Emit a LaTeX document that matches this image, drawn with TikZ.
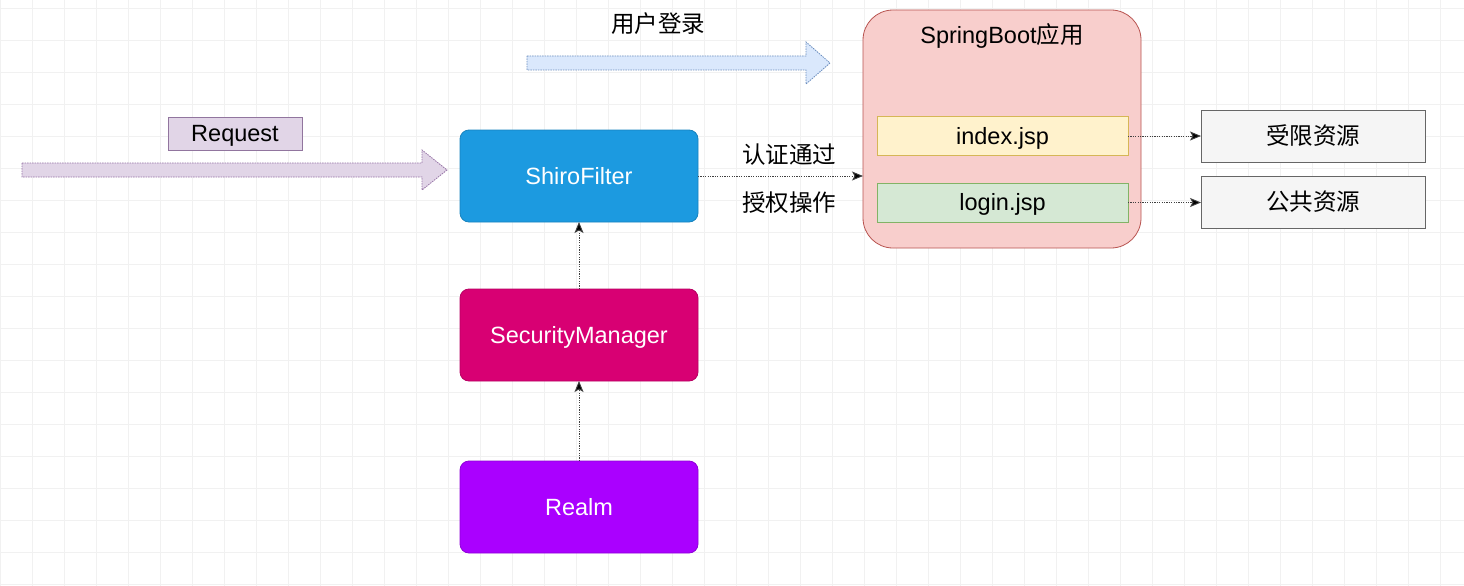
\documentclass[tikz,border=0pt]{standalone}
\usepackage{fontspec}
\setmainfont{Liberation Sans}
\newfontfamily\cjk{Noto Sans CJK SC}
\usetikzlibrary{arrows.meta}
\definecolor{reqfill}{HTML}{E1D5E7}
\definecolor{reqdraw}{HTML}{9673A6}
\definecolor{bluefill}{HTML}{DAE8FC}
\definecolor{bluedraw}{HTML}{6C8EBF}
\definecolor{shiro}{HTML}{1C9AE0}
\definecolor{smcol}{HTML}{D80073}
\definecolor{realmcol}{HTML}{AA00FF}
\definecolor{sbfill}{HTML}{F8CECC}
\definecolor{sbdraw}{HTML}{B85450}
\definecolor{idxfill}{HTML}{FFF2CC}
\definecolor{idxdraw}{HTML}{D6B656}
\definecolor{logfill}{HTML}{D5E8D4}
\definecolor{logdraw}{HTML}{82B366}
\definecolor{resfill}{HTML}{F5F5F5}
\definecolor{resdraw}{HTML}{666666}
\definecolor{gridcol}{HTML}{F1F1F1}
\begin{document}
\begin{tikzpicture}[x=1pt,y=-1pt,
  base/.style={inner sep=0pt,outer sep=0pt,font=\fontsize{23.5}{28}\selectfont,text height=16.8pt,text depth=0pt},
  corebox/.style={base,rounded corners=9pt,minimum width=238pt,minimum height=92pt,text=white,draw=#1!85!black,fill=#1,line width=0.8pt},
  jspbox/.style={base,minimum width=251pt,minimum height=39pt,line width=0.8pt},
  resbox/.style={base,minimum width=224pt,minimum height=52pt,fill=resfill,draw=resdraw,line width=0.8pt},
  conn/.style={draw=black!75,line width=0.9pt,dash pattern=on 1.2pt off 1.2pt,-{Stealth[length=11pt,width=9pt,inset=2.5pt,fill=black]}},
  blockarrow/.style={line width=0.8pt,dash pattern=on 1.5pt off 1pt}
]
\useasboundingbox (0,0) rectangle (1464,586);
\fill[white] (0,0) rectangle (1464,586);
% grid
\foreach \gx in {0,32,...,1464} \draw[gridcol,line width=0.7pt] (\gx,0) -- (\gx,586);
\foreach \gy in {8,40,...,586} \draw[gridcol,line width=0.7pt] (0,\gy) -- (1464,\gy);

% block arrows
\filldraw[blockarrow,fill=reqfill,draw=reqdraw] (22,163) -- (422,163) -- (422,150) -- (447,170) -- (422,190) -- (422,177) -- (22,177) -- cycle;
\filldraw[blockarrow,fill=bluefill,draw=bluedraw] (527,56) -- (806,56) -- (806,42) -- (830,63) -- (806,84) -- (806,70) -- (527,70) -- cycle;

\node[base,fill=reqfill,draw=reqdraw!80!gray,line width=0.8pt,minimum width=134pt,minimum height=33pt] (req) at (235,133.5) {Request};
\node[base] (login) at (658,24) {\cjk 用户登录};

\node[corebox=shiro] (sf) at (579,176) {ShiroFilter};
\node[corebox=smcol] (sm) at (579,335) {SecurityManager};
\node[corebox=realmcol] (realm) at (579,507) {Realm};

\node[base,rounded corners=30pt,fill=sbfill,draw=sbdraw,line width=0.8pt,minimum width=278pt,minimum height=238pt] (sb) at (1002,129) {};
\node[base] (sbt) at (1002,35) {SpringBoot{\cjk 应用}};
\node[jspbox,fill=idxfill,draw=idxdraw] (idx) at (1002.5,136) {index.jsp};
\node[jspbox,fill=logfill,draw=logdraw] (lg) at (1002.5,202.5) {login.jsp};

\node[resbox] (r1) at (1313,136) {\cjk 受限资源};
\node[resbox] (r2) at (1313,202.5) {\cjk 公共资源};

\node[base] (l1) at (789,155) {\cjk 认证通过};
\node[base] (l2) at (789,203) {\cjk 授权操作};

\draw[conn] (sf.east) -- (sf.east -| sb.west);
\draw[conn] (idx.east) -- (r1.west |- idx.east);
\draw[conn] (lg.east) -- (r2.west |- lg.east);
\draw[conn] (sm.north) -- (sf.south);
\draw[conn] (realm.north) -- (sm.south);
\end{tikzpicture}
\end{document}
